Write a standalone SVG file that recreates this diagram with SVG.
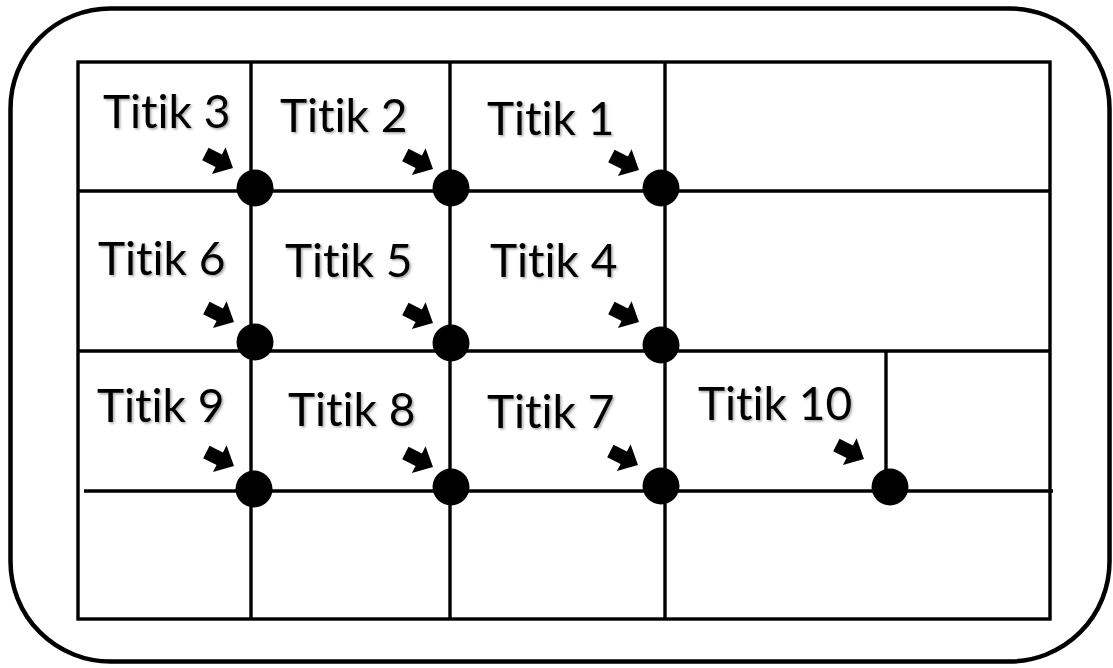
<svg xmlns="http://www.w3.org/2000/svg" width="1113" height="668" viewBox="0 0 1113 668">
<style>
.ln{stroke:#000;stroke-width:3.4;fill:none}
.out{stroke:#000;stroke-width:4.5;fill:#fff}
.lbl{font-family:Lato,"Open Sans","Liberation Sans",sans-serif;font-size:46px;fill:#000;font-variant-ligatures:none;font-feature-settings:"liga" 0,"clig" 0;filter:url(#sh)}
.dot{fill:#000}
</style>
<defs>
<filter id="sh" x="-10%" y="-20%" width="130%" height="150%">
<feDropShadow dx="1.5" dy="1.5" stdDeviation="1" flood-color="#000" flood-opacity="0.35"/>
</filter>
<polygon id="arr" points="0,0 -16,-15 -16,-7 -31,-7 -31,7 -16,7 -16,15"/>
</defs>
<rect width="1113" height="668" fill="#fff"/>
<rect class="out" x="10.5" y="8.5" width="1099" height="653" rx="100" ry="100"/>
<g id="connectors">
<rect class="ln" x="78" y="62" width="972" height="557"/>
<line class="ln" x1="78" y1="191" x2="1050" y2="191"/>
<line class="ln" x1="78" y1="351" x2="1050" y2="351"/>
<line class="ln" x1="84" y1="491" x2="1053" y2="491"/>
<line class="ln" x1="251" y1="62" x2="251" y2="619"/>
<line class="ln" x1="450" y1="62" x2="450" y2="619"/>
<line class="ln" x1="665" y1="62" x2="665" y2="619"/>
<line class="ln" x1="886" y1="351" x2="886" y2="491"/>
</g>
<g id="titik1"><text class="lbl" x="487" y="135">Titik 1</text><use href="#arr" transform="translate(639,170) rotate(27)"/><circle class="dot" cx="661" cy="188" r="18.5"/></g>
<g id="titik2"><text class="lbl" x="280" y="132">Titik 2</text><use href="#arr" transform="translate(433,169) rotate(27)"/><circle class="dot" cx="451" cy="188" r="18.5"/></g>
<g id="titik3"><text class="lbl" x="103" y="128">Titik 3</text><use href="#arr" transform="translate(233,168) rotate(27)"/><circle class="dot" cx="255" cy="188" r="18.5"/></g>
<g id="titik4"><text class="lbl" x="490" y="277">Titik 4</text><use href="#arr" transform="translate(639,322) rotate(27)"/><circle class="dot" cx="661" cy="345" r="18.5"/></g>
<g id="titik5"><text class="lbl" x="285" y="277">Titik 5</text><use href="#arr" transform="translate(433,323) rotate(27)"/><circle class="dot" cx="451" cy="343" r="18.5"/></g>
<g id="titik6"><text class="lbl" x="98" y="275">Titik 6</text><use href="#arr" transform="translate(234,322) rotate(27)"/><circle class="dot" cx="255" cy="342" r="18.5"/></g>
<g id="titik7"><text class="lbl" x="487" y="428">Titik 7</text><use href="#arr" transform="translate(638,465) rotate(27)"/><circle class="dot" cx="661" cy="486" r="18.5"/></g>
<g id="titik8"><text class="lbl" x="288" y="426">Titik 8</text><use href="#arr" transform="translate(433,467) rotate(27)"/><circle class="dot" cx="451" cy="487" r="18.5"/></g>
<g id="titik9"><text class="lbl" x="97" y="422">Titik 9</text><use href="#arr" transform="translate(234,466) rotate(27)"/><circle class="dot" cx="254" cy="489" r="18.5"/></g>
<g id="titik10"><text class="lbl" x="698" y="420">Titik 10</text><use href="#arr" transform="translate(864,459) rotate(27)"/><circle class="dot" cx="890" cy="487" r="18.5"/></g>
</svg>
